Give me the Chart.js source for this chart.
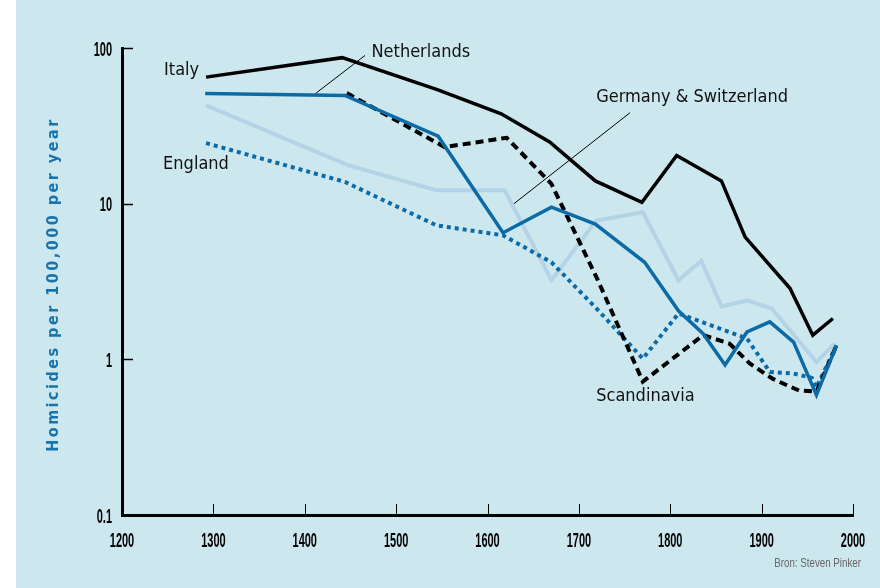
<!DOCTYPE html>
<html>
<head>
<meta charset="utf-8">
<style>
    html, body { margin: 0; padding: 0; background: #fff; }
    #wrap { width: 880px; height: 588px; }
</style>
</head>
<body>
<div id="wrap">
    <canvas id="homicides" width="880" height="588"></canvas>
</div>
<script src="https://cdn.jsdelivr.net/npm/chart.js"></script>
<script>
    // values (year, homicides per 100,000 per year)
    const italyYears = [1292, 1441, 1545, 1615, 1668, 1718, 1769, 1807, 1856, 1882, 1931, 1956, 1978];
    const italyValues = [65, 86.7, 54, 37.8, 24.9, 14.0, 10.2, 20.4, 14.0, 6.1, 2.86, 1.43, 1.83];

    const netherlandsYears = [1291, 1444, 1546, 1617, 1670, 1718, 1772, 1809, 1836, 1860, 1884, 1909, 1935, 1960, 1982];
    const netherlandsValues = [51, 49.6, 27.1, 6.5, 9.5, 7.4, 4.2, 2.05, 1.46, 0.92, 1.5, 1.74, 1.29, 0.59, 1.23];

    const scandinaviaYears = [1446, 1553, 1621, 1670, 1720, 1770, 1836, 1865, 1887, 1912, 1941, 1960, 1982];
    const scandinaviaValues = [51.3, 23.1, 26.5, 13.4, 3.3, 0.72, 1.43, 1.26, 0.94, 0.75, 0.63, 0.62, 1.23];

    const germanyYears = [1292, 1448, 1544, 1619, 1670, 1719, 1770, 1809, 1834, 1856, 1884, 1911, 1960, 1980];
    const germanyValues = [42.8, 17.6, 12.2, 12.2, 3.22, 7.8, 8.8, 3.22, 4.3, 2.19, 2.39, 2.12, 0.96, 1.26];

    const englandYears = [1292, 1444, 1544, 1617, 1670, 1720, 1770, 1809, 1884, 1909, 1935, 1955, 1960, 1982];
    const englandValues = [24.5, 13.8, 7.26, 6.26, 4.2, 2.1, 1.01, 1.97, 1.36, 0.83, 0.81, 0.76, 0.66, 1.23];

    const yTickValues = [0.1, 1, 10, 100];
    const yTickLabels = ['0.1', '1', '10', '100'];

    // labels on the chart: text, year, value
    const seriesLabels = [
        ['Italy', 1246, 71.8],
        ['Netherlands', 1473, 93.7],
        ['Germany & Switzerland', 1719, 48.2],
        ['England', 1245, 17.9],
        ['Scandinavia', 1719, 0.579]
    ];
    // leader lines: from (year, value) to (year, value)
    const leaders = [
        [1466, 89.6, 1412, 51.1],
        [1756, 38.4, 1629, 10.0]
    ];

    const DARK_BLUE = '#0c6ba6';
    const LIGHT_BLUE = '#b4d3e7';
    const PANEL = '#cde7ef';
    const COND = '"DejaVu Sans Condensed", sans-serif';
    const TICK_FONT = 'bold 20px "Liberation Sans", Arial, sans-serif';

    function points(xs, ys) {
        return xs.map((x, i) => ({x: x, y: ys[i]}));
    }

    // squeezed text, the original uses a very narrow face
    function narrowText(ctx, text, x, y, align, squeeze) {
        const w = ctx.measureText(text).width * squeeze;
        let left = x;
        if (align === 'right') left = x - w;
        if (align === 'center') left = x - w / 2;
        ctx.save();
        ctx.translate(left, y);
        ctx.scale(squeeze, 1);
        ctx.textAlign = 'left';
        ctx.fillText(text, 0, 0);
        ctx.restore();
    }

    const decorations = {
        id: 'decorations',
        beforeDraw(chart) {
            const ctx = chart.ctx;
            ctx.save();
            ctx.fillStyle = '#fff';
            ctx.fillRect(0, 0, chart.width, chart.height);
            ctx.fillStyle = PANEL;
            ctx.fillRect(16, 0, chart.width - 16, chart.height);
            ctx.restore();
        },
        afterDraw(chart) {
            const ctx = chart.ctx;
            const xs = chart.scales.x;
            const ys = chart.scales.y;
            const area = chart.chartArea;
            ctx.save();
            ctx.strokeStyle = '#000';

            // inward tick marks
            ctx.lineWidth = 1.5;
            yTickValues.forEach(v => {
                if (v === 0.1) return;
                const py = Math.round(ys.getPixelForValue(v)) + 0.5;
                ctx.beginPath();
                ctx.moveTo(area.left, py);
                ctx.lineTo(area.left + 11, py);
                ctx.stroke();
            });
            ctx.lineWidth = 1;
            xs.ticks.forEach(t => {
                if (t.value === 1200) return;
                const px = Math.round(xs.getPixelForValue(t.value)) + 0.5;
                ctx.beginPath();
                ctx.moveTo(px, area.bottom);
                ctx.lineTo(px, area.bottom - 11);
                ctx.stroke();
            });

            // tick labels
            ctx.fillStyle = '#000';
            ctx.font = TICK_FONT;
            ctx.textBaseline = 'middle';
            yTickValues.forEach((v, i) => {
                narrowText(ctx, yTickLabels[i], area.left - 10, ys.getPixelForValue(v) + 2, 'right', 0.55);
            });
            xs.ticks.forEach(t => {
                narrowText(ctx, String(t.value), xs.getPixelForValue(t.value), area.bottom + 26, 'center', 0.55);
            });

            // leader lines
            ctx.lineWidth = 1;
            leaders.forEach(l => {
                ctx.beginPath();
                ctx.moveTo(xs.getPixelForValue(l[0]), ys.getPixelForValue(l[1]));
                ctx.lineTo(xs.getPixelForValue(l[2]), ys.getPixelForValue(l[3]));
                ctx.stroke();
            });

            // series names
            ctx.fillStyle = '#111';
            ctx.font = '18px ' + COND;
            ctx.textAlign = 'left';
            ctx.textBaseline = 'middle';
            seriesLabels.forEach(s => {
                ctx.fillText(s[0], xs.getPixelForValue(s[1]), ys.getPixelForValue(s[2]));
            });

            // axis title
            ctx.save();
            ctx.translate(54, (area.top + area.bottom) / 2 + 3);
            ctx.rotate(-Math.PI / 2);
            ctx.font = 'bold 16px ' + COND;
            ctx.fillStyle = '#1874ad';
            const title = 'Homicides per 100,000 per year';
            const w = ctx.measureText(title).width;
            const spacing = (332 - w) / (title.length - 1);
            ctx.letterSpacing = spacing.toFixed(2) + 'px';
            ctx.textAlign = 'center';
            ctx.textBaseline = 'middle';
            ctx.fillText(title, 0, 0);
            ctx.restore();

            // source
            ctx.font = '13px "Liberation Sans", Arial, sans-serif';
            ctx.fillStyle = '#666';
            ctx.textBaseline = 'middle';
            narrowText(ctx, 'Bron: Steven Pinker', 861, 563, 'right', 0.75);
            ctx.restore();
        }
    };

    const config = {
        type: 'line',
        data: {
            datasets: [
                {
                    label: 'Italy',
                    data: points(italyYears, italyValues),
                    borderColor: '#000',
                    borderWidth: 3.5,
                    order: 1
                },
                {
                    label: 'Netherlands',
                    data: points(netherlandsYears, netherlandsValues),
                    borderColor: DARK_BLUE,
                    borderWidth: 3.5,
                    order: 2
                },
                {
                    label: 'Scandinavia',
                    data: points(scandinaviaYears, scandinaviaValues),
                    borderColor: '#000',
                    borderWidth: 4,
                    borderDash: [8, 5],
                    order: 3
                },
                {
                    label: 'England',
                    data: points(englandYears, englandValues),
                    borderColor: DARK_BLUE,
                    borderWidth: 4,
                    borderDash: [4, 4],
                    order: 4
                },
                {
                    label: 'Germany & Switzerland',
                    data: points(germanyYears, germanyValues),
                    borderColor: LIGHT_BLUE,
                    borderWidth: 4,
                    order: 5
                }
            ]
        },
        options: {
            responsive: false,
            animation: false,
            layout: {padding: {left: 0, top: 48, right: 27, bottom: 0}},
            elements: {
                point: {radius: 0},
                line: {tension: 0, borderJoinStyle: 'miter', borderCapStyle: 'butt'}
            },
            plugins: {
                legend: {display: false},
                tooltip: {enabled: false}
            },
            scales: {
                x: {
                    type: 'linear',
                    min: 1200,
                    max: 2000,
                    grid: {display: false, drawTicks: false},
                    border: {display: true, color: '#000', width: 3},
                    ticks: {stepSize: 100, display: false},
                    afterFit: s => { s.height = 73; }
                },
                y: {
                    type: 'logarithmic',
                    min: 0.1,
                    max: 100,
                    grid: {display: false, drawTicks: false},
                    border: {display: true, color: '#000', width: 3},
                    ticks: {display: false},
                    afterBuildTicks: s => { s.ticks = yTickValues.map(v => ({value: v})); },
                    afterFit: s => { s.width = 122; }
                }
            }
        },
        plugins: [decorations]
    };

    const homicideChart = new Chart(document.getElementById('homicides').getContext('2d'), config);
</script>
</body>
</html>
